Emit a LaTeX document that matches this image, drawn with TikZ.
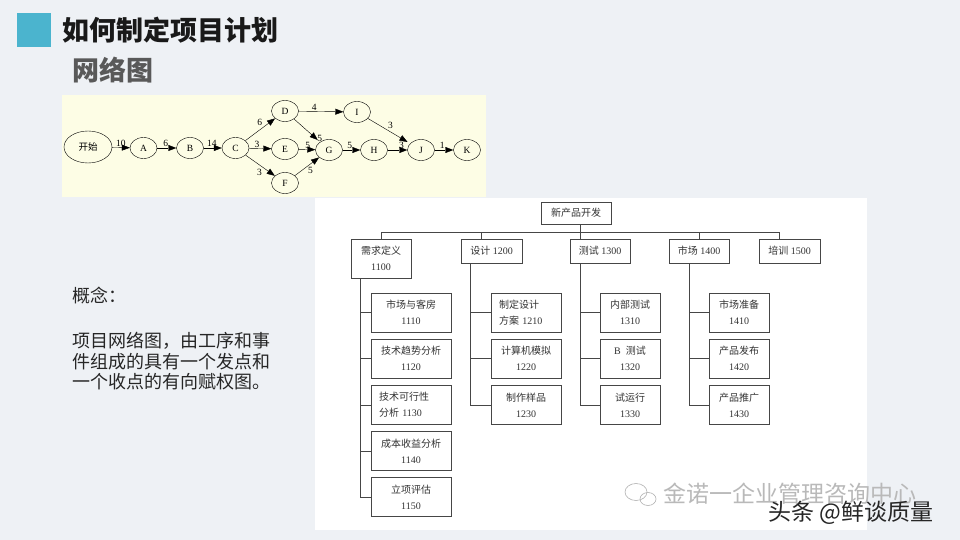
\documentclass[tikz,border=0pt]{standalone}
\usepackage{fontspec}
\setmainfont{Liberation Serif}
\newfontfamily\cjk{Noto Sans CJK SC}
\usepackage{tikz}
\usetikzlibrary{positioning, arrows.meta, shapes.geometric}
\usepackage{xcolor}
\definecolor{pageBg}{RGB}{238, 241, 245}
\definecolor{titleSq}{RGB}{75, 180, 206}
\definecolor{netBg}{RGB}{253, 253, 229}
\definecolor{wbsLine}{RGB}{70, 70, 70}
\newcommand{\zh}[1]{{\cjk #1}}

\begin{document}
\begin{tikzpicture}[
  x=1pt, y=-1pt,
  evt/.style={ellipse, draw, thin, minimum width=27pt, minimum height=21pt, inner sep=0pt, font=\fontsize{9.5}{10}\selectfont},
  dur/.style={font=\fontsize{9.5}{10}\selectfont, inner sep=1pt},
  wbs/.style={rectangle, draw=wbsLine, line width=0.7pt, fill=white, minimum height=39pt, inner sep=2pt, align=center, font=\fontsize{10}{16}\selectfont, text=black!80},
  trunk/.style={draw=wbsLine, line width=0.8pt},
  >={Triangle[length=8pt, width=6pt]}
]
  \useasboundingbox (0,0) rectangle (960,540);
  \fill[pageBg] (0,0) rectangle (960,540);

  % --- Title ---
  \fill[titleSq] (17,13) rectangle (51,47);
  \node[anchor=west, inner sep=0pt, text=black!90, font=\cjk\bfseries\fontsize{27}{30}\selectfont] (ttl) at (62,30) {如何制定项目计划};
  \node[anchor=west, inner sep=0pt, text=black!65, font=\cjk\bfseries\fontsize{27}{30}\selectfont] (sub) at (72,70) {网络图};

  % --- Network diagram ---
  \fill[netBg] (62,95) rectangle (486,197);
  \node[evt, minimum width=48pt, minimum height=32pt, font=\cjk\fontsize{9.5}{10}\selectfont] (st) at (88,147) {开始};
  \node[evt] (a) at (143.5,148) {A};
  \node[evt] (b) at (190,148) {B};
  \node[evt] (c) at (235.5,148) {C};
  \node[evt] (d) at (285,111) {D};
  \node[evt] (e) at (285,149) {E};
  \node[evt] (f) at (285,183) {F};
  \node[evt] (g) at (329,150) {G};
  \node[evt] (h) at (374,150) {H};
  \node[evt] (i) at (357,112) {I};
  \node[evt] (j) at (421,150) {J};
  \node[evt] (k) at (467,150) {K};
  \draw[->] (st) -- node[dur, above] {10} (a);
  \draw[->] (a) -- node[dur, above, pos=0.45] {6} (b);
  \draw[->] (b) -- node[dur, above, pos=0.45] {14} (c);
  \draw[->] (c) -- node[dur, above left, pos=0.6] {6} (d);
  \draw[->] (c) -- node[dur, above, pos=0.35] {3} (e);
  \draw[->] (c) -- node[dur, below left, pos=0.6] {3} (f);
  \draw[->] (d) -- node[dur, above, pos=0.35] {4} (i);
  \draw[->, shorten >=3pt] (d) -- node[dur, right, pos=0.85] {5} (g);
  \draw[->] (e) -- node[dur, above, pos=0.55] {5} (g);
  \draw[->] (f) -- node[dur, below right, pos=0.5] {5} (g);
  \draw[->] (g) -- node[dur, above, pos=0.4] {5} (h);
  \draw[->, shorten >=3pt] (i) -- node[dur, above right, pos=0.45] {3} (j);
  \draw[->] (h) -- node[dur, above, pos=0.7] {3} (j);
  \draw[->] (j) -- node[dur, above, pos=0.4] {1} (k);

  % --- Concept ---
  \node[anchor=west, inner sep=0pt, text=black!85, font=\cjk\fontsize{18}{20}\selectfont] (cpt) at (72,296) {概念：};
  \node[anchor=north west, inner sep=0pt, align=left, text=black!85, font=\cjk\fontsize{18}{20.5}\selectfont] (cptBody) at (72,332) {项目网络图，由工序和事\\件组成的具有一个发点和\\一个收点的有向赋权图。};

  % --- WBS ---
  \fill[white] (315,198) rectangle (867,530);
  \node[wbs, minimum width=70pt, minimum height=22pt] (npd) at (576,213) {\zh{新产品开发}};
  \node[wbs, minimum width=60pt] (req) at (381,258.5) {\zh{需求定义}\\1100};
  \node[wbs, minimum width=61pt, minimum height=24pt] (des) at (491.5,251) {\zh{设计} 1200};
  \node[wbs, minimum width=60pt, minimum height=24pt] (tst) at (600,251) {\zh{测试} 1300};
  \node[wbs, minimum width=60pt, minimum height=24pt] (mkt) at (699,251) {\zh{市场} 1400};
  \node[wbs, minimum width=61pt, minimum height=24pt] (tra) at (789.5,251) {\zh{培训} 1500};

  \node[wbs, minimum width=80pt] (r1) at (411,312.5) {\zh{市场与客房}\\1110};
  \node[wbs, minimum width=80pt, below=6.5pt of r1] (r2) {\zh{技术趋势分析}\\1120};
  \node[wbs, minimum width=80pt, below=6.5pt of r2, align=left, text width=64pt] (r3) {\zh{技术可行性}\\\zh{分析} 1130};
  \node[wbs, minimum width=80pt, below=6.5pt of r3] (r4) {\zh{成本收益分析}\\1140};
  \node[wbs, minimum width=80pt, below=6.5pt of r4] (r5) {\zh{立项评估}\\1150};

  \node[wbs, minimum width=70pt, align=left, text width=54pt] (d1) at (526,312.5) {\zh{制定设计}\\\zh{方案} 1210};
  \node[wbs, minimum width=70pt, below=6.5pt of d1] (d2) {\zh{计算机模拟}\\1220};
  \node[wbs, minimum width=70pt, below=6.5pt of d2] (d3) {\zh{制作样品}\\1230};

  \node[wbs, minimum width=60pt] (t1) at (630,312.5) {\zh{内部测试}\\1310};
  \node[wbs, minimum width=60pt, below=6.5pt of t1] (t2) {B\ \ \zh{测试}\\1320};
  \node[wbs, minimum width=60pt, below=6.5pt of t2] (t3) {\zh{试运行}\\1330};

  \node[wbs, minimum width=60pt] (m1) at (739,312.5) {\zh{市场准备}\\1410};
  \node[wbs, minimum width=60pt, below=6.5pt of m1] (m2) {\zh{产品发布}\\1420};
  \node[wbs, minimum width=60pt, below=6.5pt of m2] (m3) {\zh{产品推广}\\1430};

  % bus and drops
  \coordinate (busL) at (381,232);
  \coordinate (busR) at (779,232);
  \draw[trunk] (busL) -- (busR);
  \draw[trunk] ([xshift=4pt]npd.south) -- ([xshift=-20pt]tst.north);
  \draw[trunk] (req.north) -- (req.north |- busL);
  \draw[trunk] ([xshift=-10pt]des.north) -- ([xshift=-10pt]des.north |- busL);
  \draw[trunk] (mkt.north) -- (mkt.north |- busL);
  \draw[trunk] ([xshift=-10pt]tra.north) -- ([xshift=-10pt]tra.north |- busR);

  % trunks to children
  \draw[trunk] ([xshift=10pt]req.south west) |- (r5.west);
  \foreach \k in {1,...,4}
    \draw[trunk] ([xshift=10pt]req.south west |- r\k.west) -- (r\k.west);
  \draw[trunk] ([xshift=10pt]des.south west) |- (d3.west);
  \draw[trunk] ([xshift=11pt]tst.south west) |- (t3.west);
  \draw[trunk] ([xshift=21pt]mkt.south west) |- (m3.west);
  \foreach \k in {1,2} {
    \draw[trunk] ([xshift=10pt]des.south west |- d\k.west) -- (d\k.west);
    \draw[trunk] ([xshift=11pt]tst.south west |- t\k.west) -- (t\k.west);
    \draw[trunk] ([xshift=21pt]mkt.south west |- m\k.west) -- (m\k.west);
  }

  % --- Watermark ---
  \draw[gray!60, line width=0.6pt] (636,492) ellipse (11pt and 8.5pt);
  \draw[gray!60, line width=0.6pt] (648,499) ellipse (8pt and 6.5pt);
  \node[anchor=west, inner sep=0pt, text=gray!55, font=\cjk\fontsize{23}{24}\selectfont] (wm1) at (663,494) {金诺一企业管理咨询中心};
  \node[anchor=west, inner sep=0pt, text=black!85, font=\cjk\fontsize{23}{24}\selectfont] (wm2) at (768,513) {头条 @鲜谈质量};
\end{tikzpicture}
\end{document}
